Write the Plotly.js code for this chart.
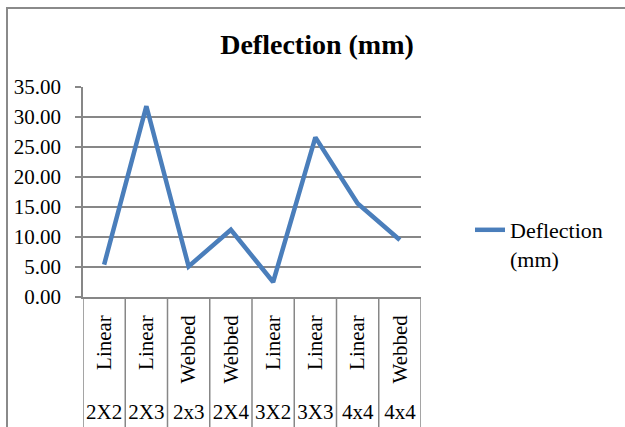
<!DOCTYPE html>
<html>
<head>
<meta charset="utf-8">
<script src="https://cdn.plot.ly/plotly-3.0.1.min.js"></script>
<style>html,body{margin:0;padding:0;background:#fff;}#chart{width:625px;height:427px;}</style>
</head>
<body>
<div id="chart"></div>
<script>
// Data
var outerLabels = ["2X2", "2X3", "2x3", "2X4", "3X2", "3X3", "4x4", "4x4"];
var innerLabels = ["Linear", "Linear", "Webbed", "Webbed", "Linear", "Linear", "Linear", "Webbed"];
var deflection = [5.4, 31.8, 5.1, 11.2, 2.5, 26.6, 15.6, 9.5];
var seriesName = "Deflection (mm)";

var idx = innerLabels.map(function(_, i){ return i; });
var FONT = "Liberation Serif, Times New Roman, serif";
var GRID = "#878787";

var trace = {
  x: idx,
  y: deflection,
  type: "scatter",
  mode: "lines",
  name: "Deflection<br>(mm)",
  line: {color: "#4A7EBB", width: 4.5},
  hovertemplate: "%{y:.2f}<extra>" + seriesName + "</extra>"
};
// invisible helper trace for the outer-level axis
var trace2 = {
  x: idx, y: deflection, xaxis: "x2", yaxis: "y",
  type: "scatter", mode: "none", showlegend: false, hoverinfo: "skip"
};

var shapes = [];
// category divider lines extending through the label area
for (var i = 0; i <= idx.length; i++) {
  shapes.push({type: "line", xref: "x", yref: "paper", x0: i - 0.5, x1: i - 0.5, y0: 0, y1: -0.75,
               line: {color: GRID, width: 1.5}, layer: "above"});
}
// chart frame (top and left edges)
shapes.push({type: "line", xref: "paper", yref: "paper", x0: (6 - 83) / 338, x1: (626 - 83) / 338,
             y0: (297 - 8) / 210, y1: (297 - 8) / 210, line: {color: "#8a8a8a", width: 2}});
shapes.push({type: "line", xref: "paper", yref: "paper", x0: (7 - 83) / 338, x1: (7 - 83) / 338,
             y0: (297 - 8) / 210, y1: -0.75, line: {color: "#8a8a8a", width: 2}});

var layout = {
  width: 625, height: 427,
  margin: {l: 83, r: 204, t: 87, b: 130},
  paper_bgcolor: "#fff", plot_bgcolor: "#fff",
  font: {family: FONT, size: 21, color: "#000"},
  title: {text: "<b>Deflection (mm)</b>", font: {family: FONT, size: 28, color: "#000"},
          x: 317 / 625, xref: "container", xanchor: "center", y: 1 - 44 / 427, yanchor: "middle", yref: "container"},
  showlegend: true,
  legend: {x: (470 - 83) / 338, xanchor: "left", y: 0.25, yanchor: "middle", valign: "top",
           font: {family: FONT, size: 22, color: "#000"}, bgcolor: "rgba(0,0,0,0)"},
  xaxis: {
    range: [-0.5, idx.length - 0.5],
    tickmode: "array", tickvals: idx, ticktext: innerLabels,
    tickangle: -90, ticks: "", showgrid: false, zeroline: false,
    showline: true, linecolor: GRID, linewidth: 1.5,
    ticklabelstandoff: 8,
    tickfont: {family: FONT, size: 21, color: "#000"}
  },
  xaxis2: {
    overlaying: "x", side: "bottom", anchor: "y",
    range: [-0.5, idx.length - 0.5],
    tickmode: "array", tickvals: idx, ticktext: outerLabels,
    tickangle: 0, ticks: "", showgrid: false, zeroline: false, showline: false,
    ticklabelstandoff: 100,
    tickfont: {family: FONT, size: 21, color: "#000"}
  },
  yaxis: {
    range: [0, 35], dtick: 5, tick0: 0, tickformat: ".2f",
    showgrid: true, gridcolor: GRID, gridwidth: 1.5,
    zeroline: false, showline: true, linecolor: GRID, linewidth: 1.5,
    ticks: "outside", ticklen: 6, tickcolor: GRID, tickwidth: 1.5,
    ticklabelstandoff: 10,
    tickfont: {family: FONT, size: 21, color: "#000"}
  },
  shapes: shapes
};

Plotly.newPlot("chart", [trace, trace2], layout, {displayModeBar: false, staticPlot: false});
</script>
</body>
</html>
